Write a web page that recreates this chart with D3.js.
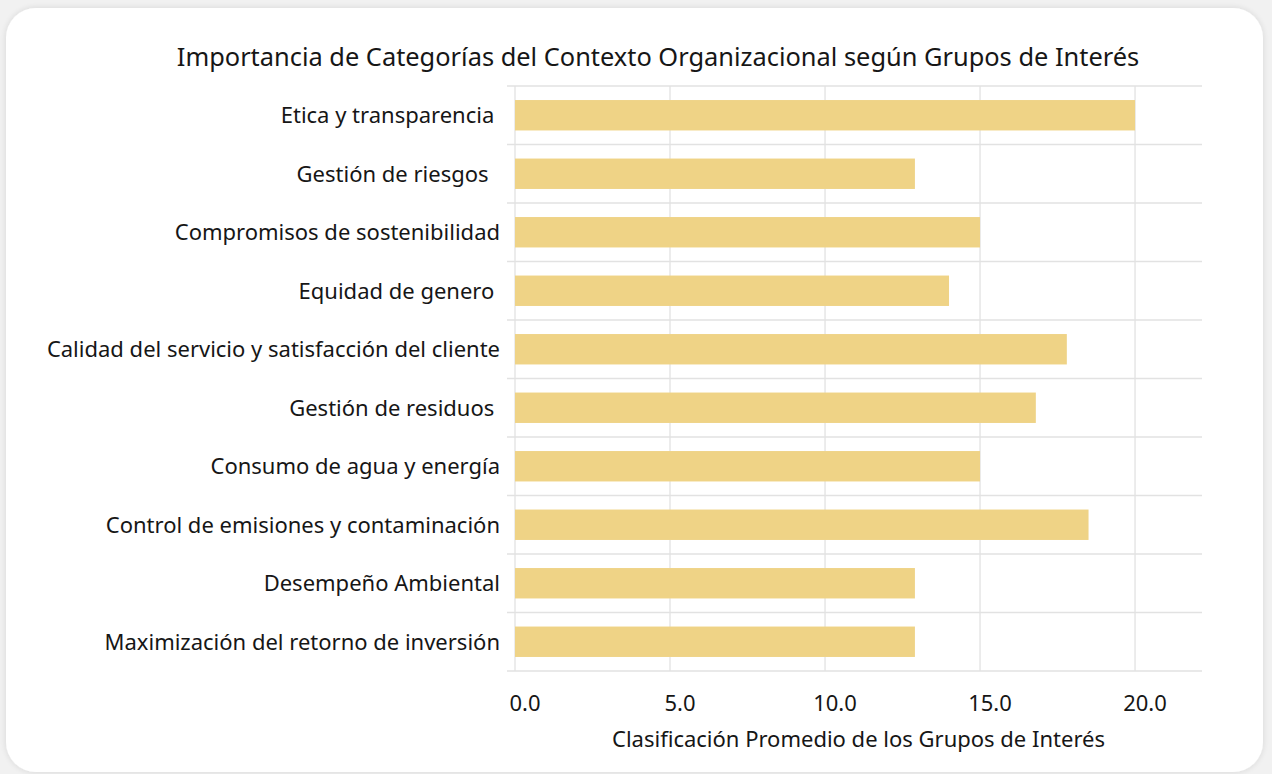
<!DOCTYPE html>
<html>
<head>
<meta charset="utf-8">
<script src="https://cdn.jsdelivr.net/npm/d3@7"></script>
<style>
  html, body { margin: 0; padding: 0; background: #f1f1f1; }
  svg { display: block; }
  text { font-family: "Noto Sans", sans-serif; fill: #161616; white-space: pre; }
</style>
</head>
<body>
<div id="chart"></div>
<script>
const categories = [
  'Etica y transparencia ',
  'Gestión de riesgos  ',
  'Compromisos de sostenibilidad',
  'Equidad de genero ',
  'Calidad del servicio y satisfacción del cliente',
  'Gestión de residuos ',
  'Consumo de agua y energía',
  'Control de emisiones y contaminación',
  'Desempeño Ambiental',
  'Maximización del retorno de inversión'
];
const values = [20.0, 12.9, 15.0, 14.0, 17.8, 16.8, 15.0, 18.5, 12.9, 12.9];
const xTicks = [0, 5, 10, 15, 20];

const width = 1272;
const height = 774;
const margin = { top: 86, right: 70, bottom: 103, left: 515 };
const chartWidth = width - margin.left - margin.right;
const chartHeight = height - margin.top - margin.bottom;

const svg = d3.select('#chart')
  .append('svg')
  .attr('width', width)
  .attr('height', height);

// card with soft shadow
const defs = svg.append('defs');
const shadow = defs.append('filter').attr('id', 'shadow')
  .attr('x', '-5%').attr('y', '-5%').attr('width', '110%').attr('height', '110%');
shadow.append('feGaussianBlur').attr('in', 'SourceAlpha').attr('stdDeviation', 3);
shadow.append('feComponentTransfer').append('feFuncA').attr('type', 'linear').attr('slope', 0.12);
const merge = shadow.append('feMerge');
merge.append('feMergeNode');
merge.append('feMergeNode').attr('in', 'SourceGraphic');

svg.append('rect')
  .attr('x', 6).attr('y', 8)
  .attr('width', 1257).attr('height', 764)
  .attr('rx', 30)
  .attr('fill', '#ffffff')
  .attr('filter', 'url(#shadow)');

const g = svg.append('g')
  .attr('transform', `translate(${margin.left},${margin.top})`);

const xScale = d3.scaleLinear()
  .domain([0, 22.16])
  .range([0, chartWidth]);

const yScale = d3.scaleBand()
  .domain(categories)
  .range([0, chartHeight])
  .paddingInner(0.48)
  .paddingOuter(0.24);

const bandStep = yScale.step();

// vertical gridlines
g.append('g')
  .selectAll('line')
  .data(xTicks)
  .enter()
  .append('line')
  .attr('x1', d => xScale(d))
  .attr('x2', d => xScale(d))
  .attr('y1', 0)
  .attr('y2', chartHeight)
  .attr('stroke', '#e2e2e2')
  .attr('stroke-width', 1.3);

// horizontal separators between categories (with small tick on the left)
const sepData = d3.range(categories.length + 1);
g.append('g')
  .selectAll('line')
  .data(sepData)
  .enter()
  .append('line')
  .attr('x1', -8)
  .attr('x2', chartWidth)
  .attr('y1', d => d * bandStep)
  .attr('y2', d => d * bandStep)
  .attr('stroke', '#e2e2e2')
  .attr('stroke-width', 1.3);

// bars
g.selectAll('rect.bar')
  .data(values)
  .enter()
  .append('rect')
  .attr('class', 'bar')
  .attr('x', xScale(0))
  .attr('y', (d, i) => yScale(categories[i]))
  .attr('width', d => xScale(d) - xScale(0))
  .attr('height', yScale.bandwidth())
  .attr('fill', '#EFD386');

// category labels
g.selectAll('text.cat')
  .data(categories)
  .enter()
  .append('text')
  .attr('class', 'cat')
  .attr('x', -15)
  .attr('y', d => yScale(d) + yScale.bandwidth() / 2)
  .attr('dy', '0.36em')
  .attr('text-anchor', 'end')
  .style('font-size', '22px')
  .text(d => d);

// x tick labels
g.selectAll('text.tick')
  .data(xTicks)
  .enter()
  .append('text')
  .attr('class', 'tick')
  .attr('x', d => xScale(d) + 10)
  .attr('y', chartHeight + 40)
  .attr('text-anchor', 'middle')
  .style('font-size', '22px')
  .text(d => d3.format('.1f')(d));

// x-axis label
g.append('text')
  .attr('x', chartWidth / 2)
  .attr('y', chartHeight + 76)
  .attr('text-anchor', 'middle')
  .style('font-size', '22px')
  .text('Clasificación Promedio de los Grupos de Interés');

// title
svg.append('text')
  .attr('x', 658)
  .attr('y', 66)
  .attr('text-anchor', 'middle')
  .style('font-size', '25.4px')
  .text('Importancia de Categorías del Contexto Organizacional según Grupos de Interés');
</script>
</body>
</html>
